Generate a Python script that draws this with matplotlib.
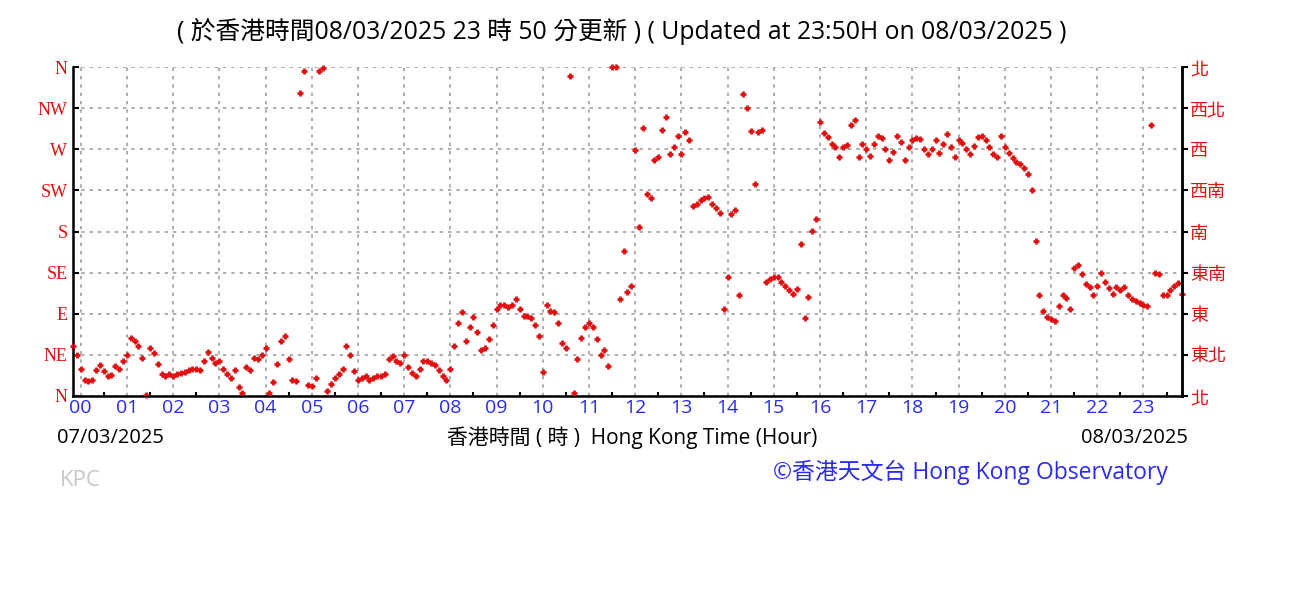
import numpy as np
import matplotlib
matplotlib.use("Agg")
import matplotlib.pyplot as plt

# 10-min mean wind direction (deg), read every 5 minutes, 23:50 07/03 -> 23:50 08/03
wind_dir = [
    55, 45,                                                      # 23:50, 23:55 prev day
    30, 18, 16, 17, 28, 34, 27, 22, 23, 33, 30, 38,              # 00
    45, 63, 60, 55, 42, 1, 52, 47, 35, 24, 22, 24,               # 01
    22, 24, 25, 26, 28, 30, 29, 28, 38, 48, 42, 36,              # 02
    38, 30, 24, 20, 28, 10, 3, 32, 28, 42, 40, 45,               # 03
    52, 3, 15, 35, 60, 66, 40, 18, 16, 332, 356, 12,             # 04
    11, 20, 356, 359, 6, 13, 20, 24, 30, 55, 45, 27,             # 05
    18, 20, 22, 18, 20, 22, 22, 24, 40, 44, 38, 36,              # 06
    45, 32, 25, 22, 30, 38, 38, 36, 34, 28, 22, 18,              # 07
    30, 55, 80, 92, 60, 75, 86, 70, 50, 52, 62, 78,              # 08
    95, 100, 100, 97, 100, 106, 95, 88, 88, 85, 78, 66,          # 09
    26, 100, 93, 92, 80, 58, 52, 350, 3, 40, 64, 76,             # 10
    80, 76, 62, 45, 50, 33, 360, 360, 106, 159, 114, 120,        # 11
    269, 185, 293, 221, 217, 258, 262, 291, 305, 265, 273, 284,  # 12
    265, 289, 280, 208, 210, 215, 217, 218, 210, 206, 200, 95,   # 13
    130, 199, 203, 110, 331, 315, 290, 232, 289, 291, 125, 128,  # 14
    130, 130, 125, 120, 116, 112, 117, 166, 85, 108, 181, 194,   # 15
    300, 288, 283, 276, 272, 262, 272, 275, 296, 302, 262, 276,  # 16
    270, 263, 276, 285, 282, 270, 258, 267, 285, 278, 258, 272,  # 17
    280, 282, 281, 270, 265, 270, 280, 266, 276, 287, 272, 262,  # 18
    280, 277, 270, 265, 274, 283, 285, 280, 272, 265, 262, 284,  # 19
    272, 266, 260, 256, 254, 249, 243, 225, 170, 110, 93, 86,    # 20
    84, 82, 98, 110, 107, 95, 140, 143, 134, 123, 119, 110,      # 21
    120, 135, 125, 118, 112, 119, 116, 119, 110, 106, 104, 102,  # 22
    100, 98, 296, 135, 134, 110, 110, 116, 120, 124, 112,        # 23
]

hour_labels = ['%02d' % h for h in range(24)]
dir_en = ['N', 'NE', 'E', 'SE', 'S', 'SW', 'W', 'NW', 'N']
dir_zh = ['北', '東北', '東', '東南', '南', '西南', '西', '西北', '北']

minutes = np.arange(-10, 1431, 5)
hours = minutes / 60.0

fig = plt.figure(figsize=(13.01, 6.01), dpi=100)
ax = fig.add_axes([0.0561, 0.3411, 0.8524, 0.5474])

ax.plot(hours, wind_dir, linestyle='none', marker='+', markersize=5,
        color='#e01010', markeredgewidth=2, clip_on=False, zorder=3)

ax.set_xlim(-10 / 60, 1430 / 60)
ax.set_ylim(0, 360)

ax.set_xticks(range(24))
ax.set_xticklabels(hour_labels, color='#2a2af0', fontsize=14, family='Open Sans')
ax.set_xticks(np.arange(0.5, 24, 1), minor=True)
ax.tick_params(axis='x', which='major', length=0, pad=2)
ax.tick_params(axis='x', which='minor', direction='in', length=3, width=1.5)

ax.set_yticks(range(0, 361, 45))
ax.set_yticklabels(dir_en, color='#e01010', fontsize=13, family='Liberation Serif')
ax.tick_params(axis='y', direction='in', length=4, width=1.5, pad=4)

ax.grid(True, color='#a0a0a0', linestyle=(0, (2, 3)), linewidth=1.2)
ax.spines['top'].set_visible(False)
for s in ['left', 'right', 'bottom']:
    ax.spines[s].set_linewidth(1.8)

ax2 = ax.twinx()
ax2.set_ylim(0, 360)
ax2.set_yticks(range(0, 361, 45))
ax2.set_yticklabels(dir_zh, color='#e01010', fontsize=13, family='Noto Sans CJK TC')
ax2.tick_params(axis='y', direction='out', length=4, width=1.5, pad=2)
ax2.spines['top'].set_visible(False)
ax2.spines['right'].set_linewidth(1.8)

txt_font = ['Open Sans', 'Noto Sans CJK TC']
fig.text(0.478, 0.947, '( 於香港時間08/03/2025 23 時 50 分更新 ) ( Updated at 23:50H on 08/03/2025 )',
         ha='center', va='center', fontsize=17.8, family=txt_font)
fig.text(0.044, 0.271, '07/03/2025', ha='left', va='center', fontsize=14.5, family=txt_font)
fig.text(0.486, 0.271, '香港時間 ( 時 )  Hong Kong Time (Hour)', ha='center', va='center',
         fontsize=15, family=txt_font)
fig.text(0.913, 0.271, '08/03/2025', ha='right', va='center', fontsize=14.5, family=txt_font)
fig.text(0.046, 0.201, 'KPC', ha='left', va='center', fontsize=16, color='#c8c8c8', family=txt_font)
fig.text(0.898, 0.214, '©香港天文台 Hong Kong Observatory', ha='right', va='center',
         fontsize=16.5, color='#2a2af0', family=txt_font)

plt.savefig('out.png', dpi=100)
